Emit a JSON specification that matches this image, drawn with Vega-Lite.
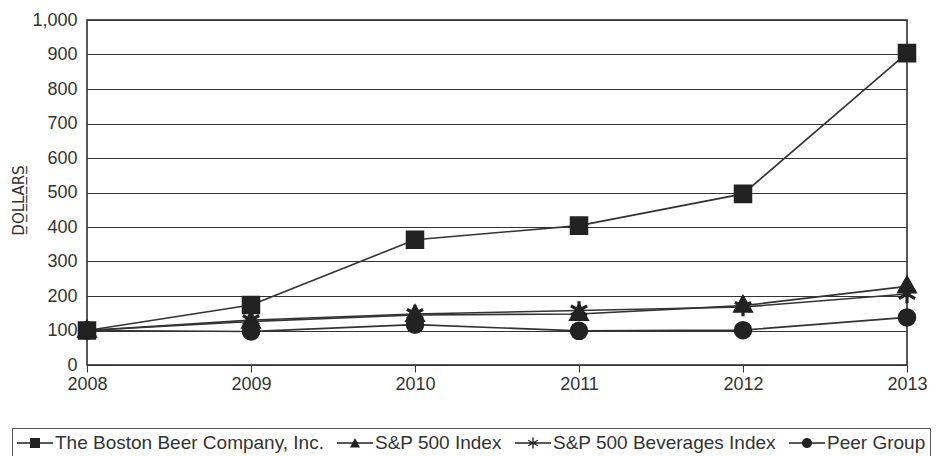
{
  "$schema": "https://vega.github.io/schema/vega-lite/v6.json",
  "width": 820,
  "height": 345,
  "autosize": "none",
  "padding": {"left": 87, "top": 20, "right": 33, "bottom": 91},
  "background": "white",
  "config": {
    "font": "Liberation Sans",
    "view": {"stroke": "#222", "strokeWidth": 1.5},
    "axis": {"labelFont": "Liberation Sans", "labelFontSize": 18, "labelColor": "#333", "titleFont": "Liberation Sans", "labelFlush": false},
    "legend": {"labelFont": "Liberation Sans"}
  },
  "data": {
    "values": [
      {"year": 2008, "series": "The Boston Beer Company, Inc.", "value": 100},
      {"year": 2009, "series": "The Boston Beer Company, Inc.", "value": 174},
      {"year": 2010, "series": "The Boston Beer Company, Inc.", "value": 363},
      {"year": 2011, "series": "The Boston Beer Company, Inc.", "value": 404},
      {"year": 2012, "series": "The Boston Beer Company, Inc.", "value": 496},
      {"year": 2013, "series": "The Boston Beer Company, Inc.", "value": 904},
      {"year": 2008, "series": "S&P 500 Index", "value": 100},
      {"year": 2009, "series": "S&P 500 Index", "value": 126},
      {"year": 2010, "series": "S&P 500 Index", "value": 145},
      {"year": 2011, "series": "S&P 500 Index", "value": 148},
      {"year": 2012, "series": "S&P 500 Index", "value": 172},
      {"year": 2013, "series": "S&P 500 Index", "value": 228},
      {"year": 2008, "series": "S&P 500 Beverages Index", "value": 100},
      {"year": 2009, "series": "S&P 500 Beverages Index", "value": 130},
      {"year": 2010, "series": "S&P 500 Beverages Index", "value": 148},
      {"year": 2011, "series": "S&P 500 Beverages Index", "value": 158},
      {"year": 2012, "series": "S&P 500 Beverages Index", "value": 168},
      {"year": 2013, "series": "S&P 500 Beverages Index", "value": 206},
      {"year": 2008, "series": "Peer Group", "value": 100},
      {"year": 2009, "series": "Peer Group", "value": 97},
      {"year": 2010, "series": "Peer Group", "value": 117},
      {"year": 2011, "series": "Peer Group", "value": 99},
      {"year": 2012, "series": "Peer Group", "value": 101},
      {"year": 2013, "series": "Peer Group", "value": 138}
    ]
  },
  "encoding": {
    "x": {
      "field": "year", "type": "quantitative",
      "scale": {"domain": [2008, 2013], "nice": false, "zero": false},
      "axis": {"values": [2008, 2009, 2010, 2011, 2012, 2013], "format": "d", "title": null, "grid": false, "domain": false, "ticks": true, "tickColor": "#333", "tickSize": 7, "labelPadding": 3}
    },
    "y": {
      "field": "value", "type": "quantitative",
      "scale": {"domain": [0, 1000], "nice": false},
      "axis": {"values": [0, 100, 200, 300, 400, 500, 600, 700, 800, 900, 1000], "format": ",d", "title": "D̲O̲L̲L̲A̲R̲S̲", "titleFont": "DejaVu Sans", "titleFontSize": 15, "titleFontWeight": "normal", "titleColor": "#333", "titleAngle": -90, "titleX": -69, "titleY": 180, "titleAlign": "center", "titleBaseline": "middle", "grid": true, "gridColor": "#333", "gridWidth": 1, "domain": false, "ticks": false, "labelPadding": 10}
    }
  },
  "layer": [
    {
      "mark": {"type": "line", "color": "#333", "strokeWidth": 1.6},
      "encoding": {"detail": {"field": "series", "type": "nominal"}}
    },
    {
      "mark": {"type": "point", "filled": true, "fill": "#222", "stroke": "#222", "strokeWidth": 1.5, "opacity": 1, "size": 290},
      "encoding": {
        "shape": {
          "field": "series", "type": "nominal",
          "scale": {
            "domain": ["The Boston Beer Company, Inc.", "S&P 500 Index", "S&P 500 Beverages Index", "Peer Group"],
            "range": [
              "square",
              "M0,-1.2L1.1,0.75L-1.1,0.75Z",
              "M-0.1,-1H0.1V1H-0.1ZM-0.82,-0.59L0.92,0.41L0.82,0.59L-0.92,-0.41ZM-0.92,0.41L0.82,-0.59L0.92,-0.41L-0.82,0.59Z",
              "circle"
            ]
          },
          "legend": null
        }
      }
    },
    {
      "mark": {"type": "point", "filled": true, "fill": "#222", "opacity": 0, "size": 400},
      "encoding": {
        "shape": {
          "field": "series", "type": "nominal",
          "scale": {
            "domain": ["The Boston Beer Company, Inc.", "S&P 500 Index", "S&P 500 Beverages Index", "Peer Group"],
            "range": [
              "M-1,-0.08H2.6V0.08H-1ZM0.3,-0.5H1.3V0.5H0.3Z",
              "M-1,-0.08H2.6V0.08H-1ZM0.3,0.45L0.8,-0.5L1.3,0.45Z",
              "M-1,-0.08H2.6V0.08H-1ZM0.73,-0.55H0.87V0.55H0.73ZM0.35,-0.332L1.31,0.228L1.25,0.332L0.29,-0.228ZM0.29,0.228L1.25,-0.332L1.31,-0.228L0.35,0.332Z",
              "M-1,-0.08H2.6V0.08H-1ZM1.3,0A0.5,0.5 0 1,1 0.3,0A0.5,0.5 0 1,1 1.3,0Z"
            ]
          },
          "legend": {
            "title": null,
            "orient": "none",
            "legendX": -75,
            "legendY": 408,
            "direction": "horizontal",
            "columns": 4,
            "symbolSize": 400,
            "symbolFillColor": "#222",
            "symbolOpacity": 1,
            "labelFontSize": 19,
            "labelColor": "#333",
            "labelOffset": 17,
            "labelLimit": 400,
            "columnPadding": 10,
            "padding": 4,
            "strokeColor": "#555"
          }
        }
      }
    }
  ],
  "resolve": {"scale": {"shape": "independent"}, "legend": {"shape": "independent"}}
}
